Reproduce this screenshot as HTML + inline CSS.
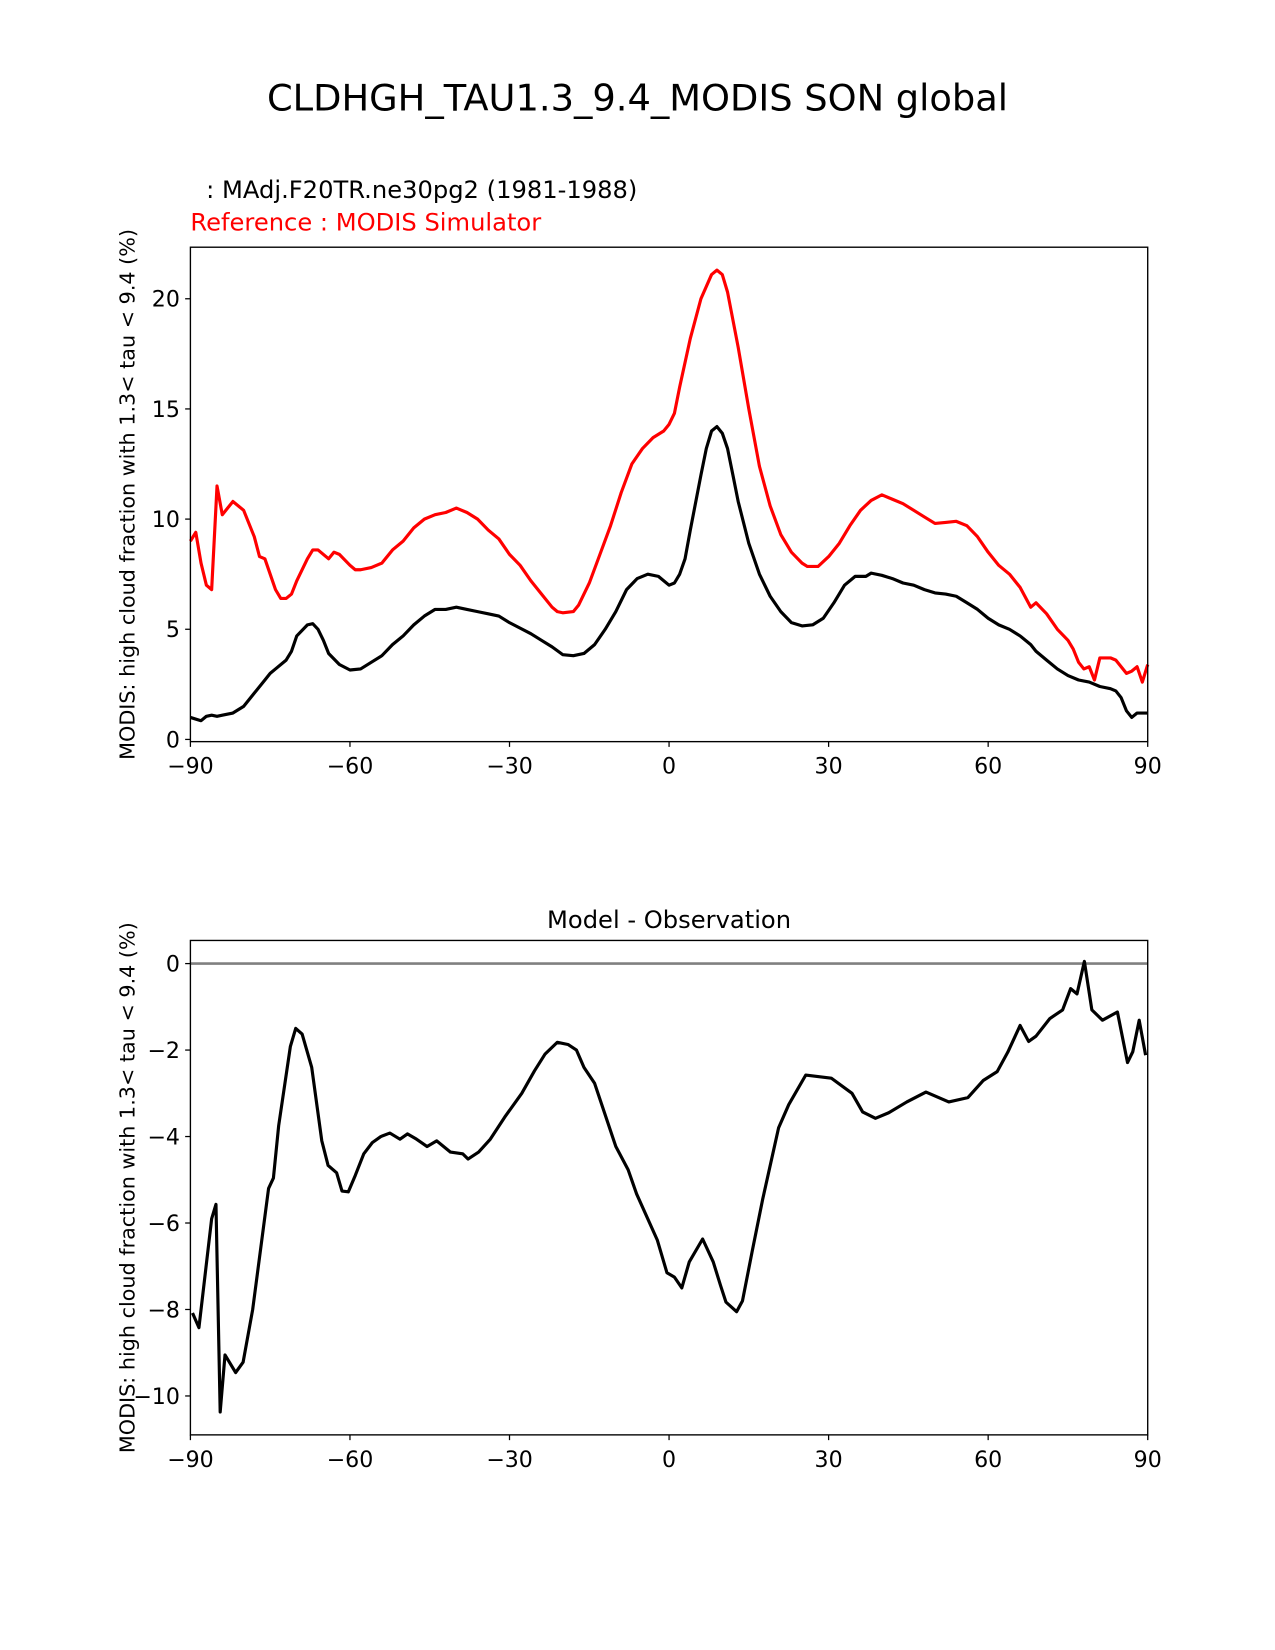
<!DOCTYPE html>
<html><head><meta charset="utf-8"><style>
html,body{margin:0;padding:0;background:#fff;}
svg{display:block;font-family:"DejaVu Sans","Liberation Sans",sans-serif;}
</style></head><body>
<svg id="fig" width="1275" height="1650" viewBox="0 0 1212 1568.5" preserveAspectRatio="none" xmlns="http://www.w3.org/2000/svg">
<rect width="1212" height="1568.5" fill="#fff"/>
<text x="606" y="105" font-size="35" text-anchor="middle">CLDHGH_TAU1.3_9.4_MODIS SON global</text>
<text x="196" y="188" font-size="23">: MAdj.F20TR.ne30pg2 (1981-1988)</text>
<text x="181" y="219" font-size="23" fill="#ff0000">Reference : MODIS Simulator</text>
<text x="636" y="882" font-size="23" text-anchor="middle">Model - Observation</text>
<g id="top"></g>
<g id="bot"></g>
</svg>
<script>
const xTicks = [-90,-60,-30,0,30,60,90];
const topYTicks = [0,5,10,15,20];
const botYTicks = [0,-2,-4,-6,-8,-10];
const refLat = [-90,-89,-88,-87,-86,-85,-84,-82,-80,-78,-77,-76,-74,-73,-72,-71,-70,-68,-67,-66,-64,-63,-62,-60,-59,-58,-56,-54,-52,-50,-48,-46,-44,-42,-40,-38,-36,-34,-32,-30,-28,-26,-24,-22,-21,-20,-18,-17,-15,-13,-11,-9,-7,-5,-3,-1,0,1,2,4,6,8,9,10,11,13,15,17,19,21,23,25,26,28,30,32,34,36,38,40,42,44,46,48,50,52,54,56,58,60,62,64,66,68,69,71,73,75,76,77,78,79,80,81,83,84,86,87,88,89,90];
const refVal = [9.0,9.4,8.0,7.0,6.8,11.5,10.2,10.8,10.4,9.2,8.3,8.2,6.8,6.4,6.4,6.6,7.2,8.2,8.6,8.6,8.2,8.5,8.4,7.9,7.7,7.7,7.8,8.0,8.6,9.0,9.6,10.0,10.2,10.3,10.5,10.3,10.0,9.5,9.1,8.4,7.9,7.2,6.6,6.0,5.8,5.75,5.8,6.1,7.1,8.4,9.7,11.2,12.5,13.2,13.7,14.0,14.3,14.8,16.0,18.2,20.0,21.1,21.3,21.1,20.3,17.8,15.0,12.4,10.6,9.3,8.5,8.0,7.85,7.85,8.3,8.9,9.7,10.4,10.85,11.1,10.9,10.7,10.4,10.1,9.8,9.85,9.9,9.7,9.2,8.5,7.9,7.5,6.9,6.0,6.2,5.7,5.0,4.5,4.1,3.5,3.2,3.3,2.7,3.7,3.7,3.6,3.0,3.1,3.3,2.6,3.4];
const modLat = [-90,-88,-87,-86,-85,-84,-82,-80,-78,-76,-75,-74,-72,-71,-70,-68,-67,-66,-65,-64,-62,-60,-58,-56,-54,-52,-50,-48,-46,-44,-42,-40,-38,-36,-34,-32,-30,-28,-26,-24,-22,-20,-18,-16,-14,-12,-10,-8,-6,-4,-2,0,1,2,3,4,6,7,8,9,10,11,12,13,15,17,19,21,23,25,27,29,31,33,35,37,38,40,42,44,46,48,50,52,54,56,58,60,62,64,66,68,69,71,73,75,77,79,81,83,84,85,86,87,88,89,90];
const modVal = [1.0,0.85,1.05,1.1,1.05,1.1,1.2,1.5,2.1,2.7,3.0,3.2,3.6,4.0,4.7,5.2,5.25,5.0,4.5,3.9,3.4,3.15,3.2,3.5,3.8,4.3,4.7,5.2,5.6,5.9,5.9,6.0,5.9,5.8,5.7,5.6,5.3,5.05,4.8,4.5,4.2,3.85,3.8,3.9,4.3,5.0,5.8,6.8,7.3,7.5,7.4,7.0,7.1,7.5,8.2,9.5,12.0,13.2,14.0,14.2,13.9,13.2,12.0,10.8,8.9,7.5,6.5,5.8,5.3,5.15,5.2,5.5,6.2,7.0,7.4,7.4,7.55,7.45,7.3,7.1,7.0,6.8,6.65,6.6,6.5,6.2,5.9,5.5,5.2,5.0,4.7,4.3,4.0,3.6,3.2,2.9,2.7,2.6,2.4,2.3,2.2,1.9,1.3,1.0,1.2,1.2,1.2];
const diffLat = [-89.6,-88.4,-86,-85.2,-84.4,-83.5,-81.5,-80.1,-78.3,-75.3,-74.4,-73.4,-71.2,-70.2,-69,-67.2,-65.3,-64.1,-62.5,-61.5,-60.3,-59,-57.4,-55.8,-54.2,-52.5,-50.6,-49.2,-47.5,-45.5,-43.7,-41.1,-38.8,-37.8,-35.8,-33.6,-30.9,-27.7,-25.3,-23.3,-21,-19,-17.4,-16,-14,-10,-7.7,-6.1,-2.2,-0.4,1.0,2.4,3.8,6.3,8.3,9.7,10.7,12.7,13.8,15.6,17.6,20.6,22.5,25.7,30.5,34.4,36.4,38.8,41.3,44.7,48.3,52.6,56.2,59.1,61.7,63.7,66,67.6,69,71.6,74,75.5,76.7,78.1,79.5,81.5,84.3,86.2,87.2,88.4,89.6];
const diffVal = [-8.08,-8.42,-5.9,-5.57,-10.37,-9.05,-9.46,-9.22,-8.0,-5.2,-4.96,-3.75,-1.92,-1.5,-1.63,-2.4,-4.1,-4.67,-4.84,-5.26,-5.28,-4.9,-4.4,-4.14,-4.0,-3.92,-4.06,-3.94,-4.06,-4.23,-4.1,-4.36,-4.4,-4.52,-4.36,-4.06,-3.55,-3.0,-2.48,-2.09,-1.82,-1.87,-2.0,-2.4,-2.77,-4.23,-4.77,-5.33,-6.4,-7.15,-7.25,-7.5,-6.9,-6.37,-6.9,-7.45,-7.83,-8.05,-7.8,-6.67,-5.45,-3.8,-3.26,-2.58,-2.65,-3.0,-3.43,-3.58,-3.45,-3.2,-2.97,-3.2,-3.1,-2.7,-2.5,-2.05,-1.43,-1.8,-1.68,-1.27,-1.07,-0.58,-0.7,0.05,-1.07,-1.31,-1.12,-2.29,-2.04,-1.31,-2.12];

const NS="http://www.w3.org/2000/svg";
const L=181,R=1091;
const xs=v=>L+(v+90)/180*(R-L);
function mk(tag,attrs,parent){const e=document.createElementNS(NS,tag);for(const k in attrs)e.setAttribute(k,attrs[k]);parent.appendChild(e);return e;}

function axes(g,top,bot,ymin,ymax,yticks,label){
  const ys=v=>bot-(v-ymin)/(ymax-ymin)*(bot-top);
  xTicks.forEach(t=>{
    const ln=mk('line',{x1:xs(t),x2:xs(t),y1:bot,y2:bot+5,stroke:'#000','stroke-width':1.2},g);
    
    
    const tx=mk('text',{x:xs(t),y:bot+30.5,'font-size':21,'text-anchor':'middle'},g);
    tx.textContent=t<0?'\u2212'+(-t):String(t);
    
    
  });
  yticks.forEach(t=>{
    const ln=mk('line',{x1:L-5,x2:L,y1:ys(t),y2:ys(t),stroke:'#000','stroke-width':1.2},g);
    
    
    const tx=mk('text',{x:L-10,y:ys(t)+7.5,'font-size':21,'text-anchor':'end'},g);
    tx.textContent=t<0?'\u2212'+(-t):String(t);
    
    
  });
  const cy=(top+bot)/2;
  const yl=mk('text',{x:128,y:cy,'font-size':19.7,'text-anchor':'middle',transform:`rotate(-90 128 ${cy})`},g);
  yl.textContent=label;
  
  
  return ys;
}
function line(g,lat,val,xsF,ysF,color,name){
  const d=lat.map((la,i)=>(i?'L':'M')+xsF(la).toFixed(1)+' '+ysF(val[i]).toFixed(1)).join(' ');
  const p=mk('path',{d:d,fill:'none',stroke:color,'stroke-width':3,'stroke-linejoin':'round'},g);
  
  
}
function frame(g,top,bot){
  const r=mk('rect',{x:L,y:top,width:R-L,height:bot-top,fill:'none',stroke:'#000','stroke-width':1.3},g);
  
  
}
const label='MODIS: high cloud fraction with 1.3< tau < 9.4 (%)';
const gt=document.getElementById('top');
const ysT=axes(gt,235,705,-0.1,22.34,topYTicks,label);
line(gt,refLat,refVal,xs,ysT,'#ff0000','reference-line');
line(gt,modLat,modVal,xs,ysT,'#000','model-line');
frame(gt,235,705);
const gb=document.getElementById('bot');
const ysB=axes(gb,894,1364,-10.9,0.535,botYTicks,label);
const z=mk('line',{x1:L,x2:R,y1:ysB(0),y2:ysB(0),stroke:'#808080','stroke-width':2.5},gb);


line(gb,diffLat,diffVal,xs,ysB,'#000','difference-line');
frame(gb,894,1364);
</script>
</body></html>
